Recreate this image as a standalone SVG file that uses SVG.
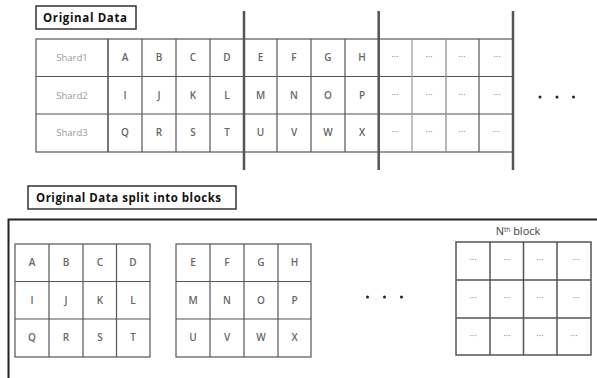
<svg xmlns="http://www.w3.org/2000/svg" width="597" height="378" viewBox="0 0 597 378">
<style>
.g{stroke:#555;stroke-width:1.2;fill:none}
.thick{stroke:#555;stroke-width:2.5;fill:none}
.lbl{fill:#fff;stroke:#333;stroke-width:1.5}
.ttl{font-family:"Open Sans","Noto Sans",sans-serif;font-weight:bold;font-size:11.5px;fill:#111}
.c{font-family:"Open Sans","Noto Sans",sans-serif;font-size:10px;font-weight:600;fill:#666;text-anchor:middle}
.s{font-family:"Open Sans","Noto Sans",sans-serif;font-size:9.5px;fill:#999;text-anchor:middle}
.d{font-family:"Open Sans","Noto Sans",sans-serif;font-size:9px;fill:#777;text-anchor:middle}
.dot{fill:#222}
</style>
<rect width="597" height="378" fill="#fff"/>

<g id="original-data-label">
<rect class="lbl" x="36" y="6" width="100" height="23"/>
<text class="ttl" x="43" y="22" textLength="84">Original Data</text>
</g>

<g id="original-table">
<rect class="g" x="36" y="39" width="477" height="113"/>
<line class="g" x1="36" y1="76.5" x2="513" y2="76.5"/>
<line class="g" x1="36" y1="114" x2="513" y2="114"/>
<line class="g" x1="108" y1="39" x2="108" y2="152" style="stroke-width:1.6"/>
<line class="g" x1="142" y1="39" x2="142" y2="152"/>
<line class="g" x1="176" y1="39" x2="176" y2="152"/>
<line class="g" x1="210" y1="39" x2="210" y2="152"/>
<line class="g" x1="277" y1="39" x2="277" y2="152"/>
<line class="g" x1="311" y1="39" x2="311" y2="152"/>
<line class="g" x1="345" y1="39" x2="345" y2="152"/>
<line class="g" x1="412" y1="39" x2="412" y2="152" style="stroke:#999"/>
<line class="g" x1="446" y1="39" x2="446" y2="152" style="stroke:#888"/>
<line class="g" x1="479" y1="39" x2="479" y2="152"/>
<text class="s" x="72" y="61">Shard1</text>
<text class="s" x="72" y="98.5">Shard2</text>
<text class="s" x="72" y="136">Shard3</text>
<g class="c">
<text x="125" y="61">A</text><text x="159" y="61">B</text><text x="193" y="61">C</text><text x="227" y="61">D</text>
<text x="260.5" y="61">E</text><text x="294" y="61">F</text><text x="328" y="61">G</text><text x="362" y="61">H</text>
<text x="125" y="98.5">I</text><text x="159" y="98.5">J</text><text x="193" y="98.5">K</text><text x="227" y="98.5">L</text>
<text x="260.5" y="98.5">M</text><text x="294" y="98.5">N</text><text x="328" y="98.5">O</text><text x="362" y="98.5">P</text>
<text x="125" y="136">Q</text><text x="159" y="136">R</text><text x="193" y="136">S</text><text x="227" y="136">T</text>
<text x="260.5" y="136">U</text><text x="294" y="136">V</text><text x="328" y="136">W</text><text x="362" y="136">X</text>
</g>
<g class="d">
<text x="395" y="60">···</text><text x="429" y="60">···</text><text x="462" y="60">···</text><text x="497" y="60">···</text>
<text x="395" y="97.5">···</text><text x="429" y="97.5">···</text><text x="462" y="97.5">···</text><text x="497" y="97.5">···</text>
<text x="395" y="135">···</text><text x="429" y="135">···</text><text x="462" y="135">···</text><text x="496" y="135">···</text>
</g>
</g>

<g id="block-separators">
<line class="thick" x1="244" y1="11" x2="244" y2="170"/>
<line class="thick" x1="378.7" y1="11" x2="378.7" y2="170"/>
<line class="thick" x1="513" y1="11" x2="513" y2="170"/>
</g>

<g id="top-ellipsis">
<circle class="dot" cx="540" cy="97" r="1.5"/>
<circle class="dot" cx="557" cy="97" r="1.5"/>
<circle class="dot" cx="573.5" cy="97" r="1.5"/>
</g>

<g id="split-label">
<rect class="lbl" x="28" y="186" width="208" height="23"/>
<text class="ttl" x="36" y="202" textLength="185">Original Data split into blocks</text>
</g>

<g id="blocks-container">
<path d="M599 219.5 H8.5 V380" fill="none" stroke="#222" stroke-width="2"/>
</g>

<g id="block-1">
<rect class="g" x="15" y="244" width="135" height="113"/>
<line class="g" x1="15" y1="281.5" x2="150" y2="281.5"/>
<line class="g" x1="15" y1="319" x2="150" y2="319"/>
<line class="g" x1="49" y1="244" x2="49" y2="357"/>
<line class="g" x1="83" y1="244" x2="83" y2="357"/>
<line class="g" x1="116.5" y1="244" x2="116.5" y2="357"/>
<g class="c">
<text x="32" y="266">A</text><text x="66" y="266">B</text><text x="100" y="266">C</text><text x="133" y="266">D</text>
<text x="32" y="303.5">I</text><text x="66" y="303.5">J</text><text x="100" y="303.5">K</text><text x="133" y="303.5">L</text>
<text x="32" y="341">Q</text><text x="66" y="341">R</text><text x="100" y="341">S</text><text x="133" y="341">T</text>
</g>
</g>

<g id="block-2">
<rect class="g" x="176" y="244" width="135" height="113"/>
<line class="g" x1="176" y1="281.5" x2="311" y2="281.5"/>
<line class="g" x1="176" y1="319" x2="311" y2="319"/>
<line class="g" x1="210" y1="244" x2="210" y2="357"/>
<line class="g" x1="244" y1="244" x2="244" y2="357"/>
<line class="g" x1="278" y1="244" x2="278" y2="357"/>
<g class="c">
<text x="193" y="266">E</text><text x="227" y="266">F</text><text x="261" y="266">G</text><text x="294.5" y="266">H</text>
<text x="193" y="303.5">M</text><text x="227" y="303.5">N</text><text x="261" y="303.5">O</text><text x="294.5" y="303.5">P</text>
<text x="193" y="341">U</text><text x="227" y="341">V</text><text x="261" y="341">W</text><text x="294.5" y="341">X</text>
</g>
</g>

<g id="bottom-ellipsis">
<circle class="dot" cx="367.5" cy="297" r="1.5"/>
<circle class="dot" cx="384.5" cy="297" r="1.5"/>
<circle class="dot" cx="401.5" cy="297" r="1.5"/>
</g>

<g id="block-n">
<text class="c" x="518" y="235" style="font-size:11px;font-weight:normal;fill:#444">N<tspan dy="-3.5" style="font-size:6.5px">th</tspan><tspan dy="3.5"> block</tspan></text>
<rect class="g" x="456" y="242" width="135" height="113" style="stroke-width:1.5"/>
<line class="g" x1="456" y1="280" x2="591" y2="280" style="stroke-width:1.5"/>
<line class="g" x1="456" y1="318" x2="591" y2="318" style="stroke-width:1.5"/>
<line class="g" x1="490" y1="242" x2="490" y2="355" style="stroke-width:1.5"/>
<line class="g" x1="523.5" y1="242" x2="523.5" y2="355" style="stroke-width:1.5"/>
<line class="g" x1="557" y1="242" x2="557" y2="355" style="stroke-width:1.5"/>
<g class="d">
<text x="473" y="263">···</text><text x="507" y="263">···</text><text x="540" y="263">···</text><text x="576" y="263">···</text>
<text x="473" y="301">···</text><text x="507" y="301">···</text><text x="540" y="301">···</text><text x="576" y="301">···</text>
<text x="473" y="339">···</text><text x="507" y="339">···</text><text x="540" y="339">···</text><text x="574" y="339">···</text>
</g>
</g>
</svg>
